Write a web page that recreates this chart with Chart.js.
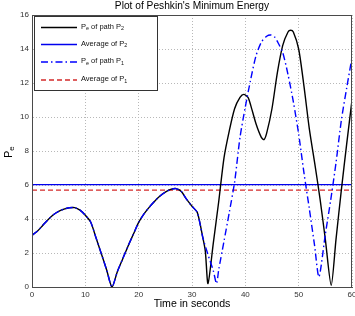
<!DOCTYPE html>
<html>
<head>
<meta charset="utf-8">
<script src="https://cdn.jsdelivr.net/npm/chart.js@4"></script>
<style>
  html, body { margin: 0; padding: 0; background: #fff; }
  #wrap { width: 355px; height: 316px; }
</style>
</head>
<body>
<div id="wrap"><canvas id="peshkinChart" width="355" height="316"></canvas></div>
<script>
// time (s) and Pe values
const timeP2 = [0, 1, 2, 3, 4, 5, 6, 7, 8, 9, 10, 11, 12, 13, 14, 15, 16, 17, 18, 19, 20,
    21, 22, 23, 24, 25, 26, 27, 28, 29, 30, 31, 32, 32.5, 33, 34, 35, 36, 37, 38, 39, 39.7,
    40.5, 41, 42, 43, 43.5, 44, 45, 46, 47, 48, 48.5, 49, 50, 51, 52, 53, 54, 55, 56.1,
    57, 58, 59, 60];
const peP2 = [3.05, 3.28, 3.62, 3.96, 4.25, 4.45, 4.58, 4.66, 4.67, 4.52, 4.22, 3.82, 2.9,
    1.96, 1.0, 0, 0.9, 1.65, 2.4, 3.1, 3.8, 4.3, 4.7, 5.05, 5.35, 5.58, 5.74, 5.79, 5.62,
    5.15, 4.75, 4.38, 2.95, 2.1, 0.2, 2.6, 5.0, 7.6, 9.2, 10.5, 11.15, 11.33, 11.15, 10.7,
    9.6, 8.8, 8.67, 9.05, 10.5, 12.6, 14.2, 15.0, 15.1, 15.0, 14.0, 11.8, 9.3, 7.3, 5.2,
    2.8, 0.1, 2.8, 5.7, 8.4, 11.0];

const timeP1 = [0, 1, 2, 3, 4, 5, 6, 7, 8, 9, 10, 11, 12, 13, 14, 15, 16, 17, 18, 19, 20,
    21, 22, 23, 24, 25, 26, 27, 28, 29, 30, 31, 32, 33, 34, 34.6, 35, 36, 37, 38, 39, 40,
    41, 42, 43, 44, 44.8, 45.5, 46, 47, 48, 49, 50, 51, 52, 53, 53.8, 55, 56, 57, 58, 59, 60];
const peP1 = [3.05, 3.28, 3.62, 3.96, 4.25, 4.45, 4.58, 4.66, 4.67, 4.52, 4.22, 3.82, 2.9,
    1.96, 1.0, 0, 0.9, 1.65, 2.4, 3.1, 3.8, 4.3, 4.7, 5.05, 5.35, 5.58, 5.74, 5.79, 5.62,
    5.15, 4.75, 4.38, 2.95, 1.9, 0.95, 0.2, 1.0, 2.7, 4.4, 6.2, 8.8, 10.6, 12.2, 13.6, 14.4,
    14.75, 14.82, 14.7, 14.45, 13.8, 12.5, 10.9, 9.0, 6.7, 4.6, 2.4, 0.6, 3.1, 5.1, 7.3,
    9.8, 11.7, 13.5];

const averageP2 = 6.02;
const averageP1 = 5.7;
const timeRange = [0, 60];

const xTicks = [0, 10, 20, 30, 40, 50, 60];
const yTicks = [0, 2, 4, 6, 8, 10, 12, 14, 16];

const legendItems = [
    { main: 'P', sub: 'e', rest: ' of path P', sub2: '2', color: '#000000', dash: [] },
    { main: 'Average of P', sub: '2', rest: '', sub2: '', color: '#0000ee', dash: [] },
    { main: 'P', sub: 'e', rest: ' of path P', sub2: '1', color: '#0000ff', dash: [7, 3, 1.5, 3] },
    { main: 'Average of P', sub: '1', rest: '', sub2: '', color: '#d42a2a', dash: [5, 3] }
];

const toPoints = (xs, ys) => xs.map((x, i) => ({ x: x, y: ys[i] }));
const flat = v => timeRange.map(x => ({ x: x, y: v }));

const FONT = '"Liberation Sans", Arial, sans-serif';

// draws text runs with subscripts, returns end x
function drawRuns(ctx, runs, x, y, size) {
    runs.forEach(r => {
        if (!r.t) return;
        const s = r.sub ? size * 0.72 : size;
        ctx.font = s + 'px ' + FONT;
        ctx.fillText(r.t, x, r.sub ? y + size * 0.3 : y);
        x += ctx.measureText(r.t).width;
    });
    return x;
}

const framePlugin = {
    id: 'matlabFrame',
    afterDatasetsDraw(chart) {
        const { ctx, chartArea: a } = chart;
        ctx.save();
        // axes box
        ctx.strokeStyle = '#4a4a4a';
        ctx.lineWidth = 1;
        ctx.setLineDash([]);
        ctx.strokeRect(a.left + 0.5, a.top + 0.5, a.right - a.left - 1, a.bottom - a.top);

        // legend box
        const lx = 34.5, ly = 16.5, lw = 123, lh = 74;
        ctx.fillStyle = '#fff';
        ctx.fillRect(lx, ly, lw, lh);
        ctx.strokeStyle = '#333';
        ctx.strokeRect(lx, ly, lw, lh);
        const rows = [27.5, 44.5, 62, 80];
        legendItems.forEach((it, i) => {
            const y = rows[i];
            ctx.strokeStyle = it.color;
            ctx.lineWidth = 1.4;
            ctx.setLineDash(it.dash);
            ctx.beginPath();
            ctx.moveTo(41, y);
            ctx.lineTo(77, y);
            ctx.stroke();
            ctx.setLineDash([]);
            ctx.fillStyle = '#111';
            ctx.textBaseline = 'middle';
            ctx.textAlign = 'left';
            drawRuns(ctx, [
                { t: it.main }, { t: it.sub, sub: true },
                { t: it.rest }, { t: it.sub2, sub: true }
            ], 81, y - 1, 7.5);
        });

        // title
        ctx.fillStyle = '#000';
        ctx.textAlign = 'center';
        ctx.textBaseline = 'middle';
        ctx.font = '10.2px ' + FONT;
        ctx.fillText("Plot of Peshkin's Minimum Energy", (a.left + a.right) / 2, 6);

        // x axis title
        ctx.font = '10.6px ' + FONT;
        ctx.fillText('Time in seconds', (a.left + a.right) / 2, 304);

        // y axis title
        ctx.translate(9, 152);
        ctx.rotate(-Math.PI / 2);
        ctx.textAlign = 'left';
        drawRuns(ctx, [{ t: 'P' }, { t: 'e', sub: true }], -6, 0, 11);
        ctx.restore();
    }
};

new Chart(document.getElementById('peshkinChart'), {
    type: 'line',
    data: {
        datasets: [
            {
                label: 'Pe of path P2',
                data: toPoints(timeP2, peP2),
                borderColor: '#000000',
                borderWidth: 1.4,
                tension: 0.25,
                order: 1
            },
            {
                label: 'Average of P2',
                data: flat(averageP2),
                borderColor: '#0000ee',
                borderWidth: 1.4,
                order: 2
            },
            {
                label: 'Pe of path P1',
                data: toPoints(timeP1, peP1),
                borderColor: '#0000ff',
                borderWidth: 1.4,
                borderDash: [7, 3, 1.5, 3],
                tension: 0.25,
                order: 0
            },
            {
                label: 'Average of P1',
                data: flat(averageP1),
                borderColor: '#d42a2a',
                borderWidth: 1.4,
                borderDash: [5, 3],
                order: 3
            }
        ]
    },
    options: {
        responsive: false,
        animation: false,
        events: [],
        layout: { padding: { top: 15, right: 3, left: 0, bottom: 0 } },
        elements: { point: { radius: 0 } },
        plugins: { legend: { display: false }, tooltip: { enabled: false } },
        scales: {
            x: {
                type: 'linear',
                min: 0,
                max: 60,
                afterBuildTicks: s => { s.ticks = xTicks.map(v => ({ value: v })); },
                afterFit: s => { s.height = 29; s.paddingLeft = 0; s.paddingRight = 0; },
                grid: { color: '#b8b8b8', lineWidth: 1, drawTicks: false },
                border: { color: '#4a4a4a', dash: [1, 2] },
                ticks: { color: '#333', padding: 3, maxRotation: 0, font: { family: FONT, size: 8 } }
            },
            y: {
                min: 0,
                max: 16,
                afterBuildTicks: s => { s.ticks = yTicks.map(v => ({ value: v })); },
                afterFit: s => { s.width = 32; s.paddingTop = 0; s.paddingBottom = 0; },
                grid: { color: '#b8b8b8', lineWidth: 1, drawTicks: false },
                border: { color: '#4a4a4a', dash: [1, 2] },
                ticks: { color: '#333', padding: 3, font: { family: FONT, size: 8 } }
            }
        }
    },
    plugins: [framePlugin]
});
</script>
</body>
</html>
